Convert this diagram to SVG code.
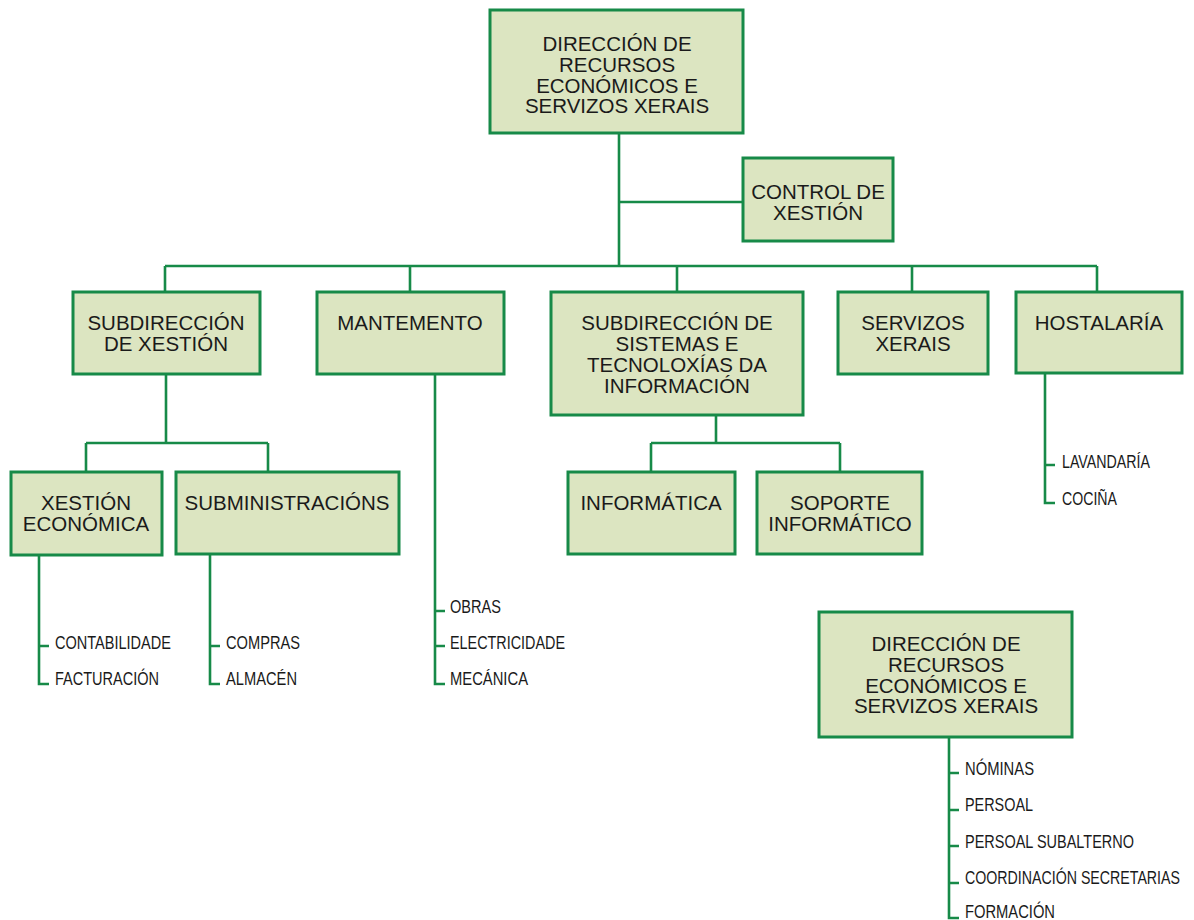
<svg xmlns="http://www.w3.org/2000/svg" width="1194" height="920" viewBox="0 0 1194 920">
<style>
.box{fill:#dce5c1;stroke:#178a48;stroke-width:3}
.ln{fill:none;stroke:#178a48;stroke-width:2.6}
.t{font-family:"Liberation Sans",Arial,sans-serif;font-size:20.5px;fill:#1a1a1a;text-anchor:middle}
.l{font-family:"Liberation Sans",Arial,sans-serif;font-size:19px;fill:#1a1a1a}
</style>
<rect width="1194" height="920" fill="#ffffff"/>
<g id="connectors">
<path class="ln" d="M619 133V266M619 202H743M165 266H1097M165 266V292M410 266V292M677 266V292M912 266V292M1097 266V292"/>
<path class="ln" d="M166 374V443M86 443H268M86 443V472M268 443V472"/>
<path class="ln" d="M716 415V443M651 443H840M651 443V472M840 443V472"/>
<path class="ln" d="M39 555V684H49M39 646H49"/>
<path class="ln" d="M210 554V684H220M210 646H220"/>
<path class="ln" d="M435 374V684H445M435 611H445M435 646H445"/>
<path class="ln" d="M1045 373V503H1055M1045 465H1055"/>
<path class="ln" d="M949 737V918H959M949 773H959M949 810H959M949 846H959M949 883H959"/>
</g>
<g id="n_top"><rect class="box" x="490" y="10" width="253" height="123"/>
<text class="t" x="617" y="51">DIRECCIÓN DE</text><text class="t" x="617" y="72">RECURSOS</text><text class="t" x="617" y="93">ECONÓMICOS E</text><text class="t" x="617" y="113">SERVIZOS XERAIS</text></g>
<g id="n_control"><rect class="box" x="743" y="158" width="150" height="83"/>
<text class="t" x="818" y="199">CONTROL DE</text><text class="t" x="818" y="220">XESTIÓN</text></g>
<g id="n_subxestion"><rect class="box" x="73" y="292" width="187" height="82"/>
<text class="t" x="166" y="330">SUBDIRECCIÓN</text><text class="t" x="166" y="351">DE XESTIÓN</text></g>
<g id="n_mantemento"><rect class="box" x="317" y="292" width="187" height="82"/>
<text class="t" x="410" y="330">MANTEMENTO</text></g>
<g id="n_subsistemas"><rect class="box" x="551" y="292" width="252" height="123"/>
<text class="t" x="677" y="330">SUBDIRECCIÓN DE</text><text class="t" x="677" y="351">SISTEMAS E</text><text class="t" x="677" y="372">TECNOLOXÍAS DA</text><text class="t" x="677" y="393">INFORMACIÓN</text></g>
<g id="n_servizos"><rect class="box" x="838" y="292" width="150" height="82"/>
<text class="t" x="913" y="330">SERVIZOS</text><text class="t" x="913" y="351">XERAIS</text></g>
<g id="n_hostalaria"><rect class="box" x="1016" y="292" width="166" height="81"/>
<text class="t" x="1099" y="330">HOSTALARÍA</text></g>
<g id="n_xeconomica"><rect class="box" x="11" y="472" width="151" height="83"/>
<text class="t" x="86" y="510">XESTIÓN</text><text class="t" x="86" y="531">ECONÓMICA</text></g>
<g id="n_subministracions"><rect class="box" x="176" y="472" width="223" height="82"/>
<text class="t" x="287" y="510">SUBMINISTRACIÓNS</text></g>
<g id="n_informatica"><rect class="box" x="568" y="472" width="167" height="82"/>
<text class="t" x="651" y="510">INFORMÁTICA</text></g>
<g id="n_soporte"><rect class="box" x="757" y="472" width="165" height="82"/>
<text class="t" x="840" y="510">SOPORTE</text><text class="t" x="840" y="531">INFORMÁTICO</text></g>
<g id="n_bottom"><rect class="box" x="819" y="612" width="253" height="125"/>
<text class="t" x="946" y="651">DIRECCIÓN DE</text><text class="t" x="946" y="672">RECURSOS</text><text class="t" x="946" y="693">ECONÓMICOS E</text><text class="t" x="946" y="713">SERVIZOS XERAIS</text></g>
<g id="lists">
<text class="l" x="55" y="649" textLength="116" lengthAdjust="spacingAndGlyphs">CONTABILIDADE</text>
<text class="l" x="55" y="685" textLength="104" lengthAdjust="spacingAndGlyphs">FACTURACIÓN</text>
<text class="l" x="226" y="649" textLength="74" lengthAdjust="spacingAndGlyphs">COMPRAS</text>
<text class="l" x="226" y="685" textLength="71" lengthAdjust="spacingAndGlyphs">ALMACÉN</text>
<text class="l" x="450" y="613" textLength="51" lengthAdjust="spacingAndGlyphs">OBRAS</text>
<text class="l" x="450" y="649" textLength="115" lengthAdjust="spacingAndGlyphs">ELECTRICIDADE</text>
<text class="l" x="450" y="685" textLength="78" lengthAdjust="spacingAndGlyphs">MECÁNICA</text>
<text class="l" x="1062" y="468" textLength="88" lengthAdjust="spacingAndGlyphs">LAVANDARÍA</text>
<text class="l" x="1062" y="505" textLength="55" lengthAdjust="spacingAndGlyphs">COCIÑA</text>
<text class="l" x="965" y="775" textLength="69" lengthAdjust="spacingAndGlyphs">NÓMINAS</text>
<text class="l" x="965" y="811" textLength="68" lengthAdjust="spacingAndGlyphs">PERSOAL</text>
<text class="l" x="965" y="848" textLength="169" lengthAdjust="spacingAndGlyphs">PERSOAL SUBALTERNO</text>
<text class="l" x="965" y="884" textLength="215" lengthAdjust="spacingAndGlyphs">COORDINACIÓN SECRETARIAS</text>
<text class="l" x="965" y="918" textLength="90" lengthAdjust="spacingAndGlyphs">FORMACIÓN</text>
</g>
</svg>
